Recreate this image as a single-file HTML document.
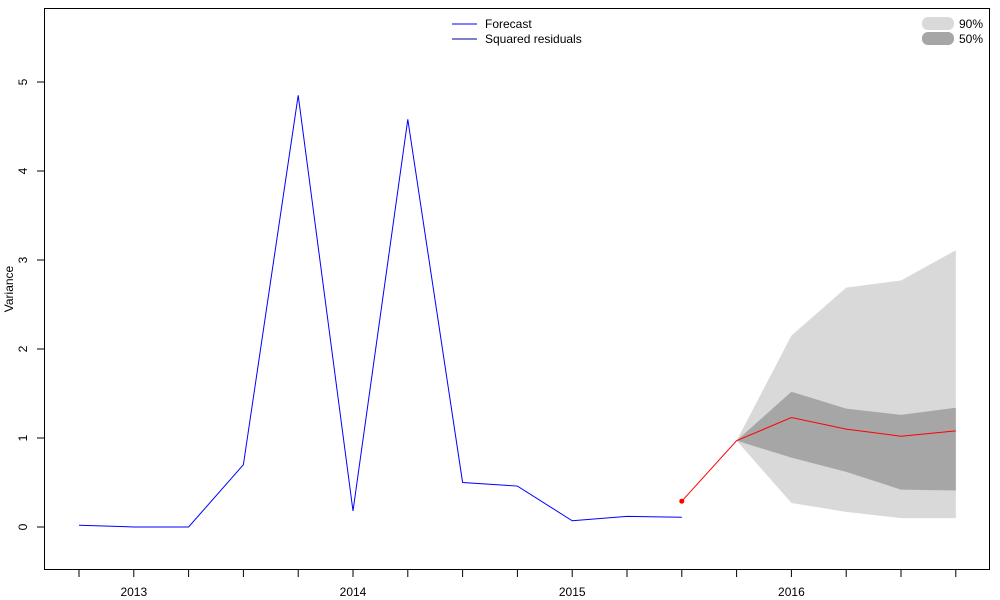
<!DOCTYPE html>
<html><head><meta charset="utf-8"><style>body{margin:0;background:#fff}svg{display:block;font-family:"Liberation Sans",Arial,sans-serif}</style></head>
<body>
<svg id="chart" width="1000" height="600" xmlns="http://www.w3.org/2000/svg">
<g id="bands"></g><g id="lines"></g><g id="axes"></g>
<g font-size="12">
<line x1="452" y1="24" x2="477" y2="24" stroke="#0000ff"/><text x="485" y="28">Forecast</text>
<line x1="452" y1="39" x2="477" y2="39" stroke="#00008b"/><text x="485" y="43">Squared residuals</text>
</g>
<g font-size="12">
<rect x="922" y="17" width="32" height="13" rx="6" fill="#d9d9d9"/><text x="959" y="28">90%</text>
<rect x="922" y="32" width="32" height="13" rx="6" fill="#a6a6a6"/><text x="959" y="43">50%</text>
</g>
</svg>
<script>
const histX=[0,1,2,3,4,5,6,7,8,9,10,11];
const histY=[0.02,0.0,0.0,0.7,4.85,0.18,4.58,0.5,0.46,0.07,0.12,0.11];
const fcX=[11,12,13,14,15,16];
const fcY=[0.29,0.97,1.23,1.1,1.02,1.08];
const bandX=[12,13,14,15,16];
const up90=[0.97,2.15,2.69,2.77,3.11];
const lo90=[0.97,0.27,0.17,0.1,0.1];
const up50=[0.97,1.52,1.33,1.26,1.34];
const lo50=[0.97,0.78,0.62,0.42,0.41];
const yTicks=[0,1,2,3,4,5];
const yearLabels=["2013","2014","2015","2016"];
const yearIdx=[1,5,9,13];
const X=i=>79+i*54.8, Y=v=>527-v*89;
const NS="http://www.w3.org/2000/svg";
function mk(p,t,a){const e=document.createElementNS(NS,t);for(const k in a)e.setAttribute(k,a[k]);p.appendChild(e);return e;}
const bands=document.getElementById('bands'),lines=document.getElementById('lines'),axes=document.getElementById('axes');
function poly(u,l){return bandX.map((x,i)=>X(x)+','+Y(u[i])).concat(bandX.map((x,i)=>X(x)+','+Y(l[i])).reverse()).join(' ');}
let b=mk(bands,'polygon',{points:poly(up90,lo90),fill:'#d9d9d9'});


b=mk(bands,'polygon',{points:poly(up50,lo50),fill:'#a6a6a6'});


let l=mk(lines,'polyline',{points:histX.map((x,i)=>X(x)+','+Y(histY[i])).join(' '),fill:'none',stroke:'#0000ff'});


l=mk(lines,'polyline',{points:fcX.map((x,i)=>X(x)+','+Y(fcY[i])).join(' '),fill:'none',stroke:'#ff0000'});


let d=mk(lines,'circle',{cx:X(fcX[0]),cy:Y(fcY[0]),r:2.5,fill:'#ff0000'});


let box=mk(axes,'rect',{x:44.5,y:8.5,width:945,height:561,fill:'none',stroke:'#000'});


yTicks.forEach(v=>{mk(axes,'line',{x1:37,x2:44,y1:Y(v),y2:Y(v),stroke:'#000'});
let t=mk(axes,'text',{x:27,y:Y(v),'font-size':12,'text-anchor':'middle',transform:`rotate(-90 27 ${Y(v)})`});t.textContent=v;

});
for(let i=0;i<=16;i++)mk(axes,'line',{x1:X(i),x2:X(i),y1:569,y2:577,stroke:'#000'});
yearLabels.forEach((s,i)=>{let t=mk(axes,'text',{x:X(yearIdx[i]),y:596,'font-size':12,'text-anchor':'middle'});t.textContent=s;

});
let yt=mk(axes,'text',{x:13,y:289,'font-size':12,'text-anchor':'middle',transform:'rotate(-90 13 289)'});yt.textContent='Variance';


</script>
</body></html>
